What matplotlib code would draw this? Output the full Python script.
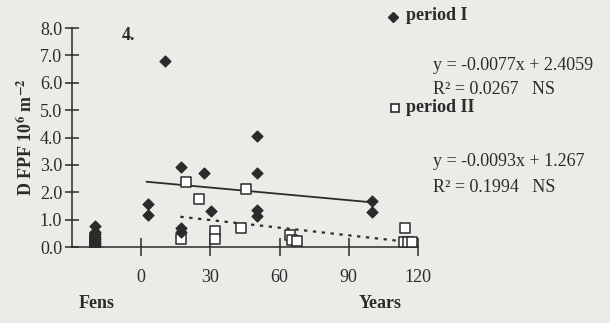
import numpy as np
import matplotlib
matplotlib.use("Agg")
import matplotlib.pyplot as plt

plt.rcParams['font.family'] = ['Liberation Serif', 'DejaVu Serif']
plt.rcParams['mathtext.fontset'] = 'stix'

# period I (diamonds): fens at x=-20, then years since restoration
p1_x = [-20, -20, -20, -20, -20, -20, -20, -20, -20,
        2.9, 3.1, 10.3, 17.4, 17.4, 17.4, 27.4, 30.3,
        50.3, 50.3, 50.3, 50.3, 100, 100]
p1_y = [0.78, 0.55, 0.47, 0.38, 0.30, 0.22, 0.14, 0.07, 0.02,
        1.57, 1.19, 6.8, 2.91, 0.70, 0.55, 2.71, 1.31,
        4.05, 2.71, 1.37, 1.13, 1.69, 1.29]

# period II (open squares)
p2_x = [-20, -20, -20, -20,
        17.4, 19.6, 25.0, 32.1, 32.1, 43.4, 45.3,
        64.6, 65.6, 67.7, 114.3, 113.9, 115.6, 117.3]
p2_y = [0.35, 0.25, 0.15, 0.05,
        0.28, 2.38, 1.75, 0.60, 0.28, 0.68, 2.14,
        0.44, 0.26, 0.22, 0.68, 0.19, 0.19, 0.19]

# regression lines (from the fitted equations)
fit1 = (-0.0077, 2.4059)
fit2 = (-0.0093, 1.267)
fit1_range = [2.4, 100]
fit2_range = [17, 115]

bg = '#ecebe7'
ink = '#2b2b2b'
fs = 13

fig = plt.figure(figsize=(6.10, 3.23), dpi=100, facecolor=bg)
ax = fig.add_axes([0.118, 0.235, 0.567, 0.678])
ax.set_facecolor(bg)

ax.scatter(p2_x, p2_y, marker='s', s=42, facecolor='white', edgecolor=ink,
           linewidth=1.1, zorder=3)
ax.scatter(p1_x, p1_y, marker='D', s=30, color=ink, zorder=4)

xs = np.array(fit1_range)
ax.plot(xs, fit1[0] * xs + fit1[1], color=ink, lw=1.3, zorder=2)
xs = np.array(fit2_range)
ax.plot(xs, fit2[0] * xs + fit2[1], color=ink, lw=1.6, ls=(0, (1.5, 2.5)), zorder=2)

ax.set_xlim(-30, 120)
ax.set_ylim(0, 8)
for s in ['top', 'right']:
    ax.spines[s].set_visible(False)
for s in ['left', 'bottom']:
    ax.spines[s].set_color(ink)
    ax.spines[s].set_linewidth(1.1)

ax.set_yticks(np.arange(0, 8.1, 1.0))
ax.set_yticklabels(['%.1f' % v for v in np.arange(0, 8.1, 1.0)])
ax.set_xticks([0, 30, 60, 90, 120])
ax.tick_params(axis='y', direction='inout', length=10, width=1.1, colors=ink,
               labelsize=fs, pad=2)
ax.tick_params(axis='x', direction='inout', length=13, width=1.1, colors=ink,
               labelsize=fs, pad=9)

ax.set_ylabel('D FPF 10$^{\\mathbf{6}}$ m$^{\\mathbf{-2}}$', fontsize=fs,
              fontweight='bold', color=ink, labelpad=3)

ax.text(-5.5, 7.74, '4.', fontsize=fs, fontweight='bold', color=ink,
        ha='center', va='center')
fig.text(97 / 610, 1 - 304 / 323, 'Fens', fontsize=fs, fontweight='bold',
         color=ink, ha='center', va='center')
fig.text(380 / 610, 1 - 304 / 323, 'Years', fontsize=fs, fontweight='bold',
         color=ink, ha='center', va='center')

# legend markers and labels, equations on the right
fig.add_artist(plt.Line2D([393 / 610], [1 - 17 / 323], marker='D', ms=5,
                          color=ink, ls='none'))
fig.add_artist(plt.Line2D([395 / 610], [1 - 108 / 323], marker='s', ms=5.5,
                          mfc='white', mec=ink, mew=1.2, ls='none'))
fig.text(406 / 610, 1 - 16 / 323, 'period I', fontsize=fs,
         fontweight='bold', color=ink, ha='left', va='center')
fig.text(406 / 610, 1 - 108 / 323, 'period II', fontsize=fs,
         fontweight='bold', color=ink, ha='left', va='center')
fig.text(433 / 610, 1 - 65 / 323, 'y = -0.0077x + 2.4059', fontsize=fs,
         color=ink, ha='left', va='center')
fig.text(433 / 610, 1 - 90 / 323, 'R\u00b2 = 0.0267   NS', fontsize=fs,
         color=ink, ha='left', va='center')
fig.text(433 / 610, 1 - 162 / 323, 'y = -0.0093x + 1.267', fontsize=fs,
         color=ink, ha='left', va='center')
fig.text(433 / 610, 1 - 187 / 323, 'R\u00b2 = 0.1994   NS', fontsize=fs,
         color=ink, ha='left', va='center')

fig.savefig('out.png', dpi=100, facecolor=bg)
